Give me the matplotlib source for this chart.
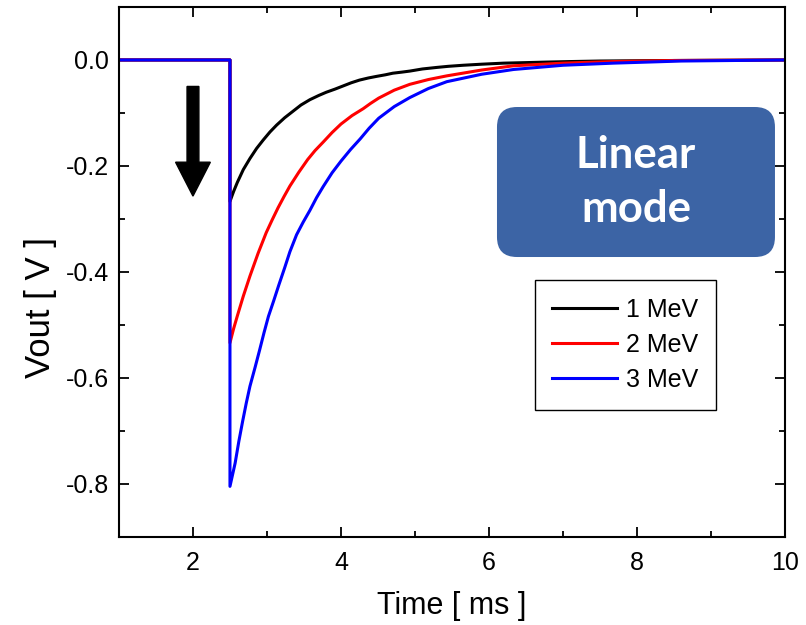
import matplotlib
matplotlib.use('Agg')
import matplotlib.pyplot as plt
from matplotlib.patches import FancyBboxPatch, FancyArrow

plt.rcParams['font.family'] = ['Liberation Sans', 'DejaVu Sans']

# pulse data (time in ms, Vout in V)
t_1mev = [1.0, 2.5, 2.5, 2.55, 2.6, 2.68, 2.77, 2.86, 2.95, 3.04, 3.13, 3.24,
          3.35, 3.46, 3.58, 3.7, 3.8, 3.92, 4.03, 4.14, 4.25, 4.37, 4.48, 4.6,
          4.7, 4.82, 4.93, 5.1, 5.3, 5.45, 5.65, 5.9, 6.2, 6.5, 6.78, 7.1,
          7.5, 8.0, 8.5, 9.2, 10.0]
v_1mev = [0.0, 0.0, -0.267, -0.248, -0.231, -0.207, -0.186, -0.167, -0.151,
          -0.136, -0.123, -0.109, -0.097, -0.085, -0.075, -0.067, -0.061,
          -0.055, -0.049, -0.043, -0.038, -0.034, -0.031, -0.028, -0.025,
          -0.023, -0.021, -0.017, -0.014, -0.012, -0.010, -0.008, -0.006,
          -0.005, -0.004, -0.003, -0.002, -0.0015, -0.001, -0.0005, 0.0]

t_2mev = [1.0, 2.5, 2.5, 2.55, 2.6, 2.68, 2.77, 2.88, 2.99, 3.07, 3.15, 3.23,
          3.31, 3.43, 3.55, 3.65, 3.76, 3.88, 4.0, 4.15, 4.3, 4.4, 4.51, 4.72,
          4.93, 5.18, 5.43, 5.9, 6.33, 7.0, 7.68, 8.5, 9.2, 10.0]
v_2mev = [0.0, 0.0, -0.534, -0.507, -0.483, -0.446, -0.408, -0.365, -0.326,
          -0.302, -0.279, -0.258, -0.238, -0.212, -0.188, -0.171, -0.155,
          -0.137, -0.121, -0.105, -0.092, -0.082, -0.072, -0.057, -0.046,
          -0.037, -0.030, -0.019, -0.011, -0.006, -0.003, -0.001, -0.0005, 0.0]

t_3mev = [1.0, 2.5, 2.5, 2.57, 2.62, 2.67, 2.72, 2.77, 2.84, 2.9, 2.96, 3.02,
          3.09, 3.16, 3.24, 3.31, 3.4, 3.49, 3.58, 3.67, 3.76, 3.88, 4.0,
          4.13, 4.26, 4.38, 4.51, 4.72, 4.93, 5.18, 5.43, 5.9, 6.33, 7.0,
          7.68, 8.6, 9.3, 10.0]
v_3mev = [0.0, 0.0, -0.805, -0.761, -0.720, -0.683, -0.648, -0.616, -0.580,
          -0.548, -0.515, -0.484, -0.455, -0.425, -0.392, -0.362, -0.330,
          -0.306, -0.284, -0.260, -0.239, -0.213, -0.191, -0.169, -0.149,
          -0.129, -0.110, -0.088, -0.071, -0.054, -0.041, -0.027, -0.018,
          -0.010, -0.006, -0.002, -0.001, 0.0]

labels = ['1 MeV', '2 MeV', '3 MeV']
colors = ['black', 'red', 'blue']

fig = plt.figure(figsize=(8.06, 6.25), dpi=100)
ax = fig.add_axes([0.1476, 0.1413, 0.8263, 0.8475])

for t, v, lab, c in zip([t_1mev, t_2mev, t_3mev], [v_1mev, v_2mev, v_3mev], labels, colors):
    ax.plot(t, v, color=c, lw=2.2, label=lab)

ax.set_xlim(1, 10)
ax.set_ylim(-0.9, 0.1)
ax.set_xticks([2, 4, 6, 8, 10])
ax.set_xticks([3, 5, 7, 9], minor=True)
ax.set_yticks([-0.8, -0.6, -0.4, -0.2, 0.0])
ax.set_yticks([-0.9, -0.7, -0.5, -0.3, -0.1, 0.1], minor=True)
ax.set_yticklabels(['-0.8', '-0.6', '-0.4', '-0.2', '0.0'])
ax.tick_params(which='both', direction='in', top=True, right=True, width=1.3)
ax.tick_params(which='major', length=7, labelsize=18)
ax.tick_params(axis='x', which='major', pad=10)
ax.tick_params(axis='y', which='major', pad=7)
ax.tick_params(which='minor', length=4)
for s in ax.spines.values():
    s.set_linewidth(1.5)

ax.set_xlabel('Time [ ms ]', fontsize=22, labelpad=12)
ax.set_ylabel('Vout [ V ]', fontsize=25)
ax.yaxis.set_label_coords(-0.093, 0.432)

leg = ax.legend(loc='center', bbox_to_anchor=(0.760, 0.362), fontsize=18,
                handlelength=2.6, handletextpad=0.35, labelspacing=0.45,
                fancybox=False, edgecolor='black', framealpha=1,
                borderpad=0.7, borderaxespad=0)
leg.get_frame().set_linewidth(1.0)

# mode label box
box = FancyBboxPatch((0.5676, 0.528), 0.4174, 0.2832,
                     boxstyle='round,pad=0,rounding_size=0.03',
                     mutation_aspect=666 / 529.7,
                     transform=ax.transAxes, facecolor='#3C64A5',
                     edgecolor='none', zorder=5)
ax.add_patch(box)
ax.text(0.5676 + 0.4174 / 2, 0.528 + 0.2832 / 2, 'Linear\nmode',
        transform=ax.transAxes, ha='center', va='center', color='white',
        fontsize=31.5, fontweight='bold', family='Lato', linespacing=1.45,
        zorder=6)

# downward arrow
ax.add_patch(FancyArrow(2.0, -0.05, 0, -0.207, width=0.16, head_width=0.47,
                        head_length=0.064, length_includes_head=True,
                        color='black', zorder=4))

fig.savefig('out.png', dpi=100)
